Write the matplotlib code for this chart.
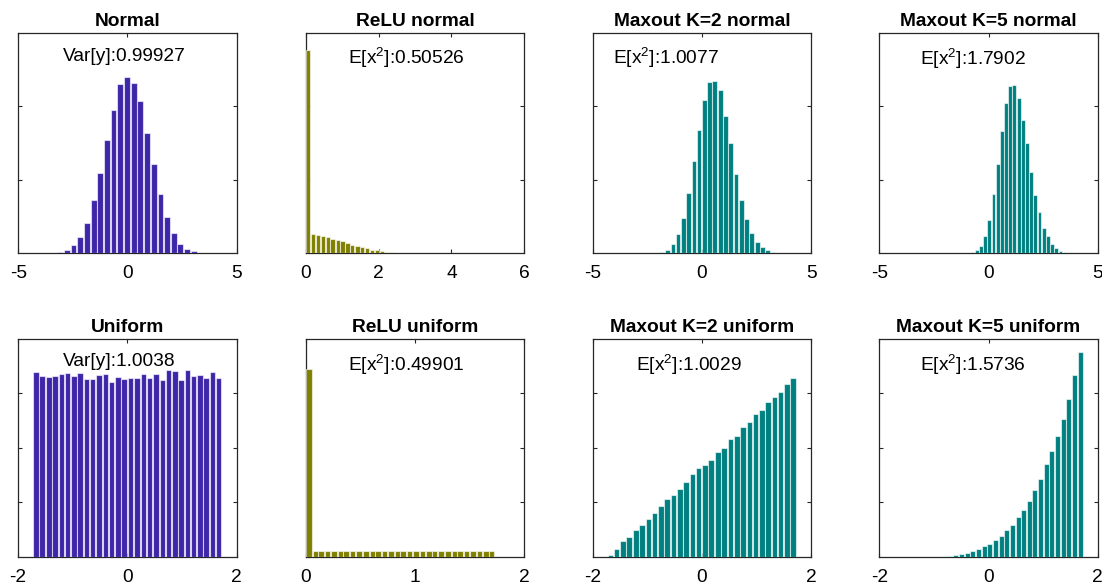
import numpy as np
import matplotlib
matplotlib.use('Agg')
import matplotlib.pyplot as plt

plt.rcParams['font.family'] = ['Liberation Sans', 'DejaVu Sans']
plt.rcParams['mathtext.fontset'] = 'custom'
plt.rcParams['mathtext.rm'] = 'Liberation Sans'
plt.rcParams['mathtext.it'] = 'Liberation Sans:italic'

# bin centres / counts (counts in arbitrary units)
normal_x = [-3.39, -3.08, -2.78, -2.47, -2.17, -1.86, -1.55, -1.25, -0.94, -0.64, -0.33, -0.02,
            0.28, 0.59, 0.89, 1.20, 1.51, 1.81, 2.12, 2.42, 2.73, 3.04, 3.34, 3.65]
normal_y = [2, 7, 23, 52, 107, 205, 358, 545, 768, 976, 1149, 1199,
            1158, 1033, 821, 609, 399, 244, 137, 64, 27, 11, 2, 2]

relu_normal_x = [0.07, 0.20, 0.34, 0.47, 0.61, 0.74, 0.88, 1.01, 1.15, 1.28, 1.42, 1.55, 1.69, 1.82, 1.96,
                 2.09, 2.23, 2.36, 2.50, 2.63, 2.77, 2.90, 3.04, 3.17, 3.31, 3.44, 3.58, 3.71, 3.85, 3.98]
relu_normal_y = [1384, 129, 123, 118, 111, 98, 86, 79, 66, 57, 48, 41, 32, 23, 18,
                 14, 9, 5, 3, 2, 1, 1, 0, 0, 0, 0, 0, 0, 0, 1]

max2_normal_x = [-2.78, -2.54, -2.30, -2.06, -1.82, -1.57, -1.33, -1.09, -0.85, -0.61, -0.37, -0.13, 0.11, 0.35,
                 0.59, 0.84, 1.08, 1.32, 1.56, 1.80, 2.04, 2.28, 2.53, 2.77, 3.01, 3.25, 3.49]
max2_normal_y = [1, 0, 1, 2, 7, 20, 61, 130, 236, 411, 627, 836, 1045, 1164,
                 1170, 1111, 934, 750, 539, 361, 232, 136, 73, 39, 18, 7, 2]

max5_normal_x = [-1.12, -0.92, -0.73, -0.54, -0.35, -0.16, 0.03, 0.23, 0.42, 0.61, 0.80, 0.99, 1.18, 1.38, 1.57,
                 1.76, 1.95, 2.14, 2.33, 2.53, 2.72, 2.91, 3.10, 3.29, 3.48, 3.68, 3.87, 4.06, 4.25, 4.44]
max5_normal_y = [1, 1, 4, 18, 50, 114, 225, 400, 609, 830, 1020, 1139, 1143, 1059, 909,
                 748, 552, 395, 280, 168, 116, 61, 36, 16, 9, 2, 1, 0, 0, 1]

uniform_x = [-1.67, -1.56, -1.44, -1.33, -1.21, -1.10, -0.98, -0.87, -0.75, -0.64, -0.52, -0.40, -0.29, -0.17, -0.06,
             0.06, 0.17, 0.29, 0.40, 0.52, 0.64, 0.75, 0.87, 0.98, 1.10, 1.21, 1.33, 1.44, 1.56, 1.67]
uniform_y = [339.7, 332.3, 330.5, 332.3, 336.0, 337.2, 332.3, 337.2, 327.4, 326.2, 333.5, 335.4, 321.3, 329.9, 326.8,
             328.0, 328.0, 336.0, 328.6, 336.0, 325.0, 343.3, 340.9, 325.6, 342.7, 332.3, 334.8, 328.0, 339.7, 328.0]

relu_uniform_x = [0.03, 0.09, 0.14, 0.20, 0.26, 0.32, 0.37, 0.43, 0.49, 0.55, 0.61, 0.66, 0.72, 0.78, 0.84,
                  0.89, 0.95, 1.01, 1.07, 1.13, 1.18, 1.24, 1.30, 1.36, 1.41, 1.47, 1.53, 1.59, 1.65, 1.70]
relu_uniform_y = [345, 11.3, 11.0, 11.6, 11.2, 11.1, 11.4, 10.9, 11.5, 11.2, 11.0, 11.3, 11.4, 10.8, 11.2,
                  11.5, 11.1, 11.3, 11.0, 11.4, 11.2, 11.6, 10.9, 11.3, 11.1, 11.4, 11.0, 11.2, 11.5, 11.1]

max2_uniform_y = [3.7, 15.3, 29.4, 36.7, 49.6, 58.1, 69.8, 81.4, 93.6, 107.1, 113.2, 124.8, 138.3, 151.8, 162.8,
                  168.9, 178.7, 192.2, 200.1, 216.0, 222.2, 238.1, 247.9, 261.9, 270.5, 284.6, 293.1, 302.3, 317.6, 328.0]

max5_uniform_x = [-1.32, -1.22, -1.12, -1.01, -0.91, -0.80, -0.70, -0.60, -0.49, -0.39, -0.29, -0.18, -0.08, 0.02, 0.13,
                  0.23, 0.33, 0.44, 0.54, 0.64, 0.75, 0.85, 0.95, 1.06, 1.16, 1.27, 1.37, 1.47, 1.58, 1.68]
max5_uniform_y = [0.1, 0.1, 0.2, 0.2, 0.3, 0.6, 1.8, 3.1, 4.9, 7.3, 11.0, 14.1, 19.6, 24.5, 30.6,
                  39.2, 50.2, 58.1, 72.8, 85.7, 102.8, 122.4, 142.6, 170.7, 194.0, 222.2, 254.0, 290.7, 333.5, 375.8]

titles = ['Normal', 'ReLU normal', 'Maxout K=2 normal', 'Maxout K=5 normal',
          'Uniform', 'ReLU uniform', 'Maxout K=2 uniform', 'Maxout K=5 uniform']
labels = ['Var[y]:0.99927', 'E[x$^{2}$]:0.50526', 'E[x$^{2}$]:1.0077', 'E[x$^{2}$]:1.7902',
          'Var[y]:1.0038', 'E[x$^{2}$]:0.49901', 'E[x$^{2}$]:1.0029', 'E[x$^{2}$]:1.5736']
xticks = [[-5, 0, 5], [0, 2, 4, 6], [-5, 0, 5], [-5, 0, 5],
          [-2, 0, 2], [0, 1, 2], [-2, 0, 2], [-2, 0, 2]]

panels = [(normal_x, normal_y), (relu_normal_x, relu_normal_y),
          (max2_normal_x, max2_normal_y), (max5_normal_x, max5_normal_y),
          (uniform_x, uniform_y), (relu_uniform_x, relu_uniform_y),
          (uniform_x, max2_uniform_y), (max5_uniform_x, max5_uniform_y)]

blue = '#3E26A8'
olive = '#808000'
teal = '#008080'
colors = [blue, olive, teal, teal, blue, olive, teal, teal]

# layout (figure fractions)
lefts = [0.0165, 0.2774, 0.5378, 0.7979]
w = 0.1983
row_bottom = [0.5683, 0.0495]
row_h = [0.3754, 0.372]
row_ylim = [1500, 400]
row_yticks = [[500, 1000], [100, 200, 300]]
text_pos = [(0.207, 0.892), (0.195, 0.885), (0.094, 0.885), (0.187, 0.88),
            (0.205, 0.896), (0.195, 0.88), (0.199, 0.88), (0.187, 0.88)]

fig = plt.figure(figsize=(11.02, 5.86), dpi=100)
axc = (0.15, 0.15, 0.15)

for i in range(8):
    r, c = divmod(i, 4)
    ax = fig.add_axes([lefts[c], row_bottom[r], w, row_h[r]])
    x, y = panels[i]
    step = np.diff(x).mean()
    ax.bar(x, y, width=step * 0.88, color=colors[i],
           edgecolor=(1, 1, 1, 0.6), linewidth=0.8, zorder=3)
    ax.set_xlim(xticks[i][0], xticks[i][-1])
    ax.set_ylim(0, row_ylim[r])
    ax.set_xticks(xticks[i])
    ax.set_xticklabels([str(t) for t in xticks[i]])
    ax.set_yticks(row_yticks[r])
    ax.set_yticklabels([])
    ax.tick_params(direction='in', length=3, width=0.8, color=axc,
                   top=True, right=True, labelsize=13.8, pad=9)
    for s in ax.spines.values():
        s.set_color(axc)
        s.set_linewidth(0.9)
    ax.set_title(titles[i], fontsize=13.8, fontweight='bold', pad=5)
    ax.text(text_pos[i][0], text_pos[i][1], labels[i], transform=ax.transAxes,
            ha='left', va='center', fontsize=13.8, color='black')

fig.savefig('out.png', dpi=100)
